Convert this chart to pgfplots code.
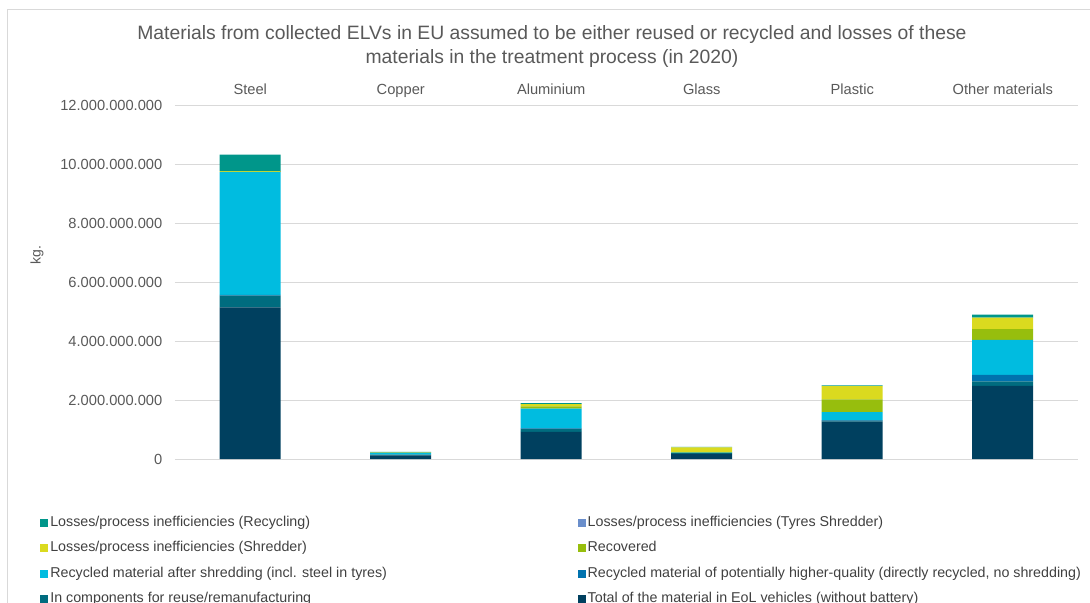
\documentclass[border=0pt]{standalone}
\usepackage{fontspec}
\setmainfont{Liberation Sans}
\usepackage{pgfplots}
\pgfplotsset{compat=1.18}
\definecolor{cTotal}{HTML}{00405F}
\definecolor{cComp}{HTML}{006C7F}
\definecolor{cHigh}{HTML}{0072AE}
\definecolor{cShred}{HTML}{00BCE0}
\definecolor{cRecov}{HTML}{97BE0D}
\definecolor{cLossSh}{HTML}{DADA1F}
\definecolor{cTyres}{HTML}{6A8ECB}
\definecolor{cLossRec}{HTML}{00968A}
\definecolor{gridgrey}{HTML}{D9D9D9}
\definecolor{labelgrey}{HTML}{595959}
\definecolor{legendgrey}{HTML}{404040}

\begin{document}
\begin{tikzpicture}
\useasboundingbox (0,0) rectangle (817.5pt,-452.25pt);
% chart frame (right and bottom edges lie outside the picture)
\draw[gridgrey, line width=0.75pt] (5.6pt,-470pt) -- (5.6pt,-7.1pt) -- (830pt,-7.1pt);
\begin{axis}[
    at={(131.25pt,-344.25pt)}, anchor=south west,
    scale only axis, width=677.25pt, height=265.5pt,
    ybar stacked, bar width=45.75pt,
    xmin=-0.5, xmax=5.5,
    xtick={0,1,2,3,4,5},
    xticklabels={Steel,Copper,Aluminium,Glass,Plastic,Other materials},
    xticklabel pos=right,
    xticklabel style={anchor=south, text height=8pt, text depth=2.5pt, yshift=2pt},
    ymin=0, ymax=12e9,
    ytick={0,2e9,4e9,6e9,8e9,10e9,12e9},
    scaled y ticks=false,
    yticklabel style={xshift=-6pt, /pgf/number format/.cd, fixed, precision=0, 1000 sep={.}, assume math mode=true},
    ymajorgrids, grid style={gridgrey, line width=0.75pt},
    axis line style={draw=none}, major tick length=0pt,
    tick label style={font=\fontsize{11}{13}\selectfont, text=labelgrey},
    title={Materials from collected ELVs in EU assumed to be either reused or recycled and losses of these\\materials in the treatment process (in 2020)},
    title style={at={(0.4175,1.1413)}, anchor=center, align=center,
        font=\fontsize{14.5}{18}\selectfont, text=labelgrey},
    ylabel={kg.},
    ylabel style={at={(-0.1528,0.576)}, anchor=center,
        font=\fontsize{10.5}{12}\selectfont, text=labelgrey},
    legend style={draw=none, fill=none, at={(-0.1539,-0.1525)}, anchor=north west,
        legend columns=2, font=\fontsize{10.7}{12}\selectfont, text=legendgrey,
        nodes={inner sep=0pt, text height=8pt, text depth=2.5pt},
        row sep=8.5pt,
        /tikz/every odd column/.append style={column sep=1.5pt},
        /tikz/every even column/.append style={column sep=143pt}},
    legend cell align=left, reverse legend,
    legend image code/.code={\fill[#1] (0pt,-3pt) rectangle (6pt,3pt);},
]
\addplot[fill=cTotal, draw=none] coordinates {(0,5.14e9) (1,0.12e9) (2,0.92e9) (3,0.17e9) (4,1.27e9) (5,2.48e9)};
\addplot[fill=cComp, draw=none] coordinates {(0,0.40e9) (1,0.03e9) (2,0.10e9) (3,0.04e9) (4,0.03e9) (5,0.15e9)};
\addplot[fill=cHigh, draw=none] coordinates {(0,0.02e9) (1,0) (2,0.02e9) (3,0) (4,0.02e9) (5,0.22e9)};
\addplot[fill=cShred, draw=none] coordinates {(0,4.17e9) (1,0.05e9) (2,0.67e9) (3,0.01e9) (4,0.27e9) (5,1.19e9)};
\addplot[fill=cRecov, draw=none] coordinates {(0,0) (1,0) (2,0.07e9) (3,0.01e9) (4,0.43e9) (5,0.36e9)};
\addplot[fill=cLossSh, draw=none] coordinates {(0,0.03e9) (1,0.02e9) (2,0.08e9) (3,0.16e9) (4,0.45e9) (5,0.39e9)};
\addplot[fill=cTyres, draw=none] coordinates {(0,0.01e9) (1,0) (2,0) (3,0) (4,0) (5,0)};
\addplot[fill=cLossRec, draw=none] coordinates {(0,0.55e9) (1,0.02e9) (2,0.03e9) (3,0.02e9) (4,0.03e9) (5,0.10e9)};
\legend{Total of the material in EoL vehicles (without battery),
    In components for reuse/remanufacturing,
    {Recycled material of potentially higher-quality (directly recycled, no shredding)},
    Recycled material after shredding (incl. steel in tyres),
    Recovered,
    Losses/process inefficiencies (Shredder),
    Losses/process inefficiencies (Tyres Shredder),
    Losses/process inefficiencies (Recycling)}
\end{axis}
\end{tikzpicture}
\end{document}
